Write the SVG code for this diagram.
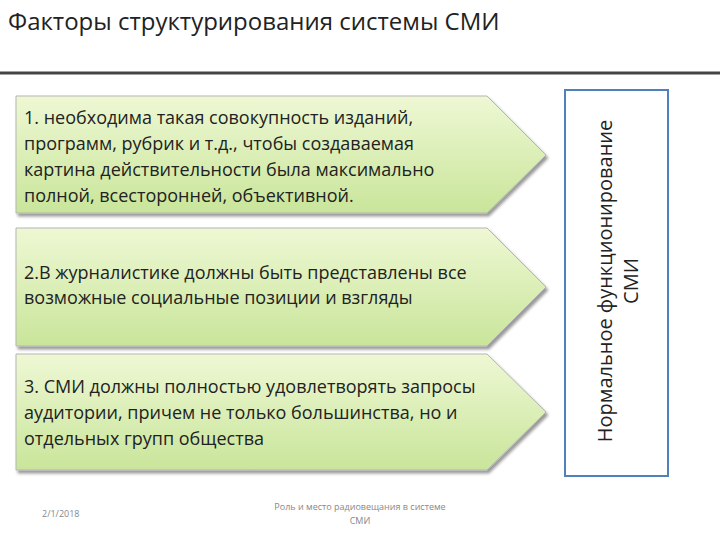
<svg xmlns="http://www.w3.org/2000/svg" width="720" height="540" viewBox="0 0 720 540">
<defs>
<linearGradient id="g" x1="0" y1="0" x2="0" y2="1"><stop offset="0" stop-color="#eef8d4"/><stop offset="1" stop-color="#c9e59a"/></linearGradient>
<filter id="s" x="-5%" y="-5%" width="110%" height="115%"><feDropShadow dx="2" dy="3" stdDeviation="1.5" flood-color="#000" flood-opacity="0.4"/></filter>
</defs>
<style>
.a{fill:url(#g);stroke:#b5b5b5;stroke-width:1;filter:url(#s)}
.t{font-family:"Open Sans","Noto Sans",sans-serif;font-size:18px;fill:#222}
.sm{font-family:"Open Sans",sans-serif;font-size:9px;fill:#888}
</style>
<rect width="720" height="540" fill="#fff"/>
<text x="8" y="30" style="font-family:'Open Sans',sans-serif;font-size:24px;fill:#222">Факторы структурирования системы СМИ</text>
<line x1="0" y1="73" x2="720" y2="73" stroke="#444" stroke-width="3"/>
<g id="n1"><path class="a" d="M16 96H487L546 155L487 213H16Z"/>
<text class="t" x="24" y="124">1. необходима такая совокупность изданий,</text>
<text class="t" x="24" y="150">программ, рубрик и т.д., чтобы создаваемая</text>
<text class="t" x="24" y="176">картина действительности была максимально</text>
<text class="t" x="24" y="202">полной, всесторонней, объективной.</text></g>
<g id="n2"><path class="a" d="M16 228H487L546 287L487 346H16Z"/>
<text class="t" x="24" y="279">2.В журналистике должны быть представлены все</text>
<text class="t" x="24" y="304">возможные социальные позиции и взгляды</text></g>
<g id="n3"><path class="a" d="M16 354H487L546 412L487 470H16Z"/>
<text class="t" x="24" y="393">3. СМИ должны полностью удовлетворять запросы</text>
<text class="t" x="24" y="419">аудитории, причем не только большинства, но и</text>
<text class="t" x="24" y="445">отдельных групп общества</text></g>
<g id="n4"><rect x="565" y="90" width="103" height="386" fill="#fff" stroke="#4f81bd" stroke-width="2"/>
<text class="t" transform="translate(612,281) rotate(-90)" text-anchor="middle" style="font-size:20px">Нормальное функционирование</text>
<text class="t" transform="translate(638,281) rotate(-90)" text-anchor="middle" style="font-size:20px">СМИ</text></g>
<g id="connectors"></g>
<text class="sm" x="42" y="517">2/1/2018</text>
<text class="sm" x="360" y="510" text-anchor="middle">Роль и место радиовещания в системе</text>
<text class="sm" x="360" y="524" text-anchor="middle">СМИ</text>
</svg>
